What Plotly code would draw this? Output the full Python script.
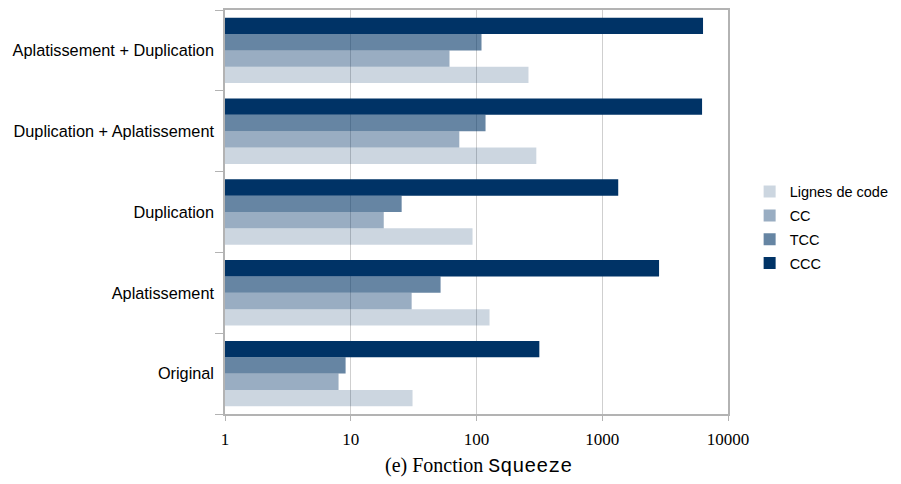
import plotly.graph_objects as go

categories = ["Original", "Aplatissement", "Duplication",
              "Duplication + Aplatissement", "Aplatissement + Duplication"]
series_names = ["Lignes de code", "CC", "TCC", "CCC"]
lignes = [31, 127, 93, 299, 259]
cc = [8.0, 30.5, 18.3, 73, 61]
tcc = [9.1, 51.8, 25.4, 118, 109.6]
ccc = [316, 2830, 1340, 6220, 6330]
series_values = [lignes, cc, tcc, ccc]
series_colors = ["rgba(0,51,102,0.2)", "rgba(0,51,102,0.4)",
                 "rgba(0,51,102,0.6)", "rgba(0,51,102,1.0)"]
x_ticks = [1, 10, 100, 1000, 10000]

fig = go.Figure()
for name, vals, col in zip(series_names, series_values, series_colors):
    fig.add_trace(go.Bar(y=categories, x=vals, name=name, orientation="h",
                         legendgroup=name,
                         marker=dict(color=col, line=dict(width=0))))

axis_col = "#b3b3b3"
fig.update_layout(
    width=893, height=476,
    margin=dict(l=217, r=173, t=2, b=70, autoexpand=False),
    paper_bgcolor="white", plot_bgcolor="white",
    barmode="group", bargap=0.19, bargroupgap=0,
    font=dict(family="Liberation Sans", size=16, color="#000"),
    legend=dict(x=1.043, y=0.59, xanchor="left", yanchor="top",
                font=dict(family="Liberation Sans", size=14.5),
                tracegroupgap=2, itemwidth=30),
    xaxis=dict(type="log", range=[0, 4], tickvals=x_ticks,
               ticktext=[str(v) for v in x_ticks],
               tickfont=dict(family="Liberation Serif", size=17),
               showgrid=True, gridcolor="#cfcfcf", gridwidth=1.2,
               showline=True, linecolor=axis_col, linewidth=1.5, mirror=True,
               ticks="outside", ticklen=5, tickcolor=axis_col, zeroline=False,
               ticklabelstandoff=4, automargin=False),
    yaxis=dict(type="category", categoryorder="array", categoryarray=categories,
               tickfont=dict(family="Liberation Sans", size=16.3),
               showline=True, linecolor=axis_col, linewidth=1.5, mirror=True,
               ticks="outside", ticklen=8, tickcolor=axis_col,
               tickson="boundaries", showgrid=False,
               ticklabelstandoff=6, automargin=False),
    annotations=[dict(
        text="(e) Fonction <span style='font-family:Liberation Mono'>Squeeze</span>",
        x=0.503, y=-0.129, xref="paper", yref="paper",
        xanchor="center", yanchor="middle", showarrow=False,
        font=dict(family="Liberation Serif", size=20))],
)
fig.write_html("out.html")
